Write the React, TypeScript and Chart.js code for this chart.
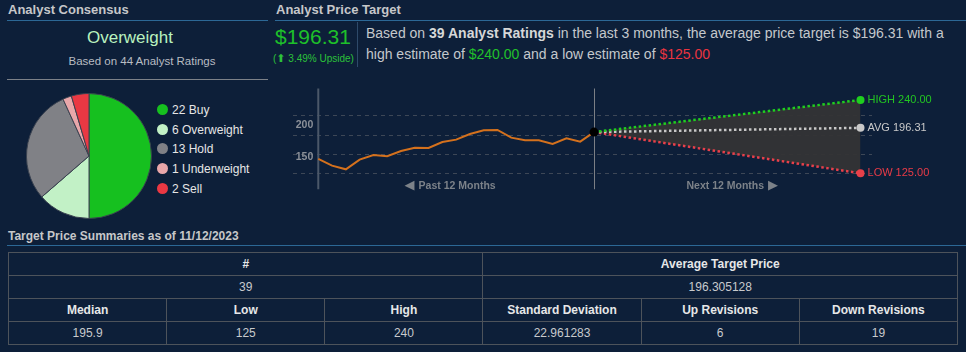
import React, { useEffect, useRef } from "react";
import { Chart, registerables } from "chart.js";

Chart.register(...registerables);

const FONT = '"Liberation Sans", Arial, Helvetica, sans-serif';
const BG = "#0d1f39";

// Analyst consensus (pie)
const RATING_LABELS = ["Buy", "Overweight", "Hold", "Underweight", "Sell"];
const RATING_COUNTS = [22, 6, 13, 1, 2];
const RATING_COLORS = ["#16c01f", "#c2f1c6", "#808186", "#e9a7aa", "#ea3843"];

// Price history (months relative to today) and price
const PAST_MONTHS = [-12, -11.4, -10.8, -10.2, -9.6, -9, -8.4, -7.8, -7.2, -6.6, -6, -5.4, -4.8, -4.2, -3.6, -3, -2.4, -1.8, -1.2, -0.6, 0];
const PAST_PRICES = [147.5, 137, 131.3, 146.4, 153.7, 151.7, 160, 165.2, 164.7, 174.1, 177.8, 186.7, 192.5, 193, 180.9, 176.7, 176.7, 171, 179.8, 174.6, 189.69];
const CURRENT_PRICE = 189.69;
const FORECAST_MONTH = 11.6;
const TARGET_HIGH = 240;
const TARGET_AVG = 196.31;
const TARGET_LOW = 125;
const GRID_VALUES = [125, 155, 185, 215];
const Y_LABELS = [150, 200];

// Summary table
const SUMMARY_HEAD = ["#", "Average Target Price"];
const SUMMARY_VALS = ["39", "196.305128"];
const STAT_HEAD = ["Median", "Low", "High", "Standard Deviation", "Up Revisions", "Down Revisions"];
const STAT_VALS = ["195.9", "125", "240", "22.961283", "6", "19"];

const PieChart: React.FC = () => {
  const ref = useRef<HTMLCanvasElement>(null);
  useEffect(() => {
    const chart = new Chart(ref.current as HTMLCanvasElement, {
      type: "pie",
      data: {
        labels: RATING_LABELS,
        datasets: [
          {
            data: RATING_COUNTS,
            backgroundColor: RATING_COLORS,
            borderColor: "#3a4250",
            borderWidth: 1,
          },
        ],
      },
      options: {
        responsive: false,
        animation: false,
        layout: { padding: 0 },
        plugins: { legend: { display: false }, tooltip: { enabled: false } },
      },
    });
    return () => chart.destroy();
  }, []);
  return <canvas ref={ref} width={126} height={126} style={{ position: "absolute", left: 26, top: 93 }} />;
};

const PriceChart: React.FC = () => {
  const ref = useRef<HTMLCanvasElement>(null);
  useEffect(() => {
    const drawWithArrow = (ctx: any, text: string, arrow: string, cx: number, cy: number, arrowFirst: boolean) => {
      const textFont = `bold 10.5px ${FONT}`;
      const arrowFont = `13px "DejaVu Sans", sans-serif`;
      ctx.font = textFont;
      const tw = ctx.measureText(text).width;
      ctx.font = arrowFont;
      const aw = ctx.measureText(arrow).width;
      const gap = 4;
      const total = tw + aw + gap;
      let x0 = cx - total / 2;
      ctx.textAlign = "left";
      if (arrowFirst) {
        ctx.font = arrowFont;
        ctx.fillText(arrow, x0, cy);
        ctx.font = textFont;
        ctx.fillText(text, x0 + aw + gap, cy);
      } else {
        ctx.font = textFont;
        ctx.fillText(text, x0, cy);
        ctx.font = arrowFont;
        ctx.fillText(arrow, x0 + tw + gap, cy);
      }
    };

    const overlay = {
      id: "overlay",
      beforeDatasetsDraw(chart: any) {
        const { ctx, chartArea, scales } = chart;
        const x = scales.x;
        const y = scales.y;
        const xl = x.getPixelForValue(PAST_MONTHS[0]);
        const xc = x.getPixelForValue(0);
        const xe = x.getPixelForValue(FORECAST_MONTH);
        ctx.save();
        ctx.strokeStyle = "#4b5869";
        ctx.lineWidth = 2;
        ctx.beginPath();
        ctx.moveTo(xl, chartArea.top);
        ctx.lineTo(xl, chartArea.bottom);
        ctx.stroke();
        ctx.strokeStyle = "#7b7f85";
        ctx.lineWidth = 1;
        ctx.beginPath();
        ctx.moveTo(Math.round(xc) + 0.5, chartArea.top);
        ctx.lineTo(Math.round(xc) + 0.5, chartArea.bottom);
        ctx.stroke();
        ctx.font = `bold 10.5px ${FONT}`;
        ctx.fillStyle = "#8b9098";
        ctx.textAlign = "right";
        ctx.textBaseline = "middle";
        Y_LABELS.forEach((v) => ctx.fillText(String(v), xl - 5, y.getPixelForValue(v)));
        ctx.fillStyle = "#7c8289";
        drawWithArrow(ctx, "Past 12 Months", "\u25C0", (xl + xc) / 2 - 6, chartArea.bottom - 3.5, true);
        drawWithArrow(ctx, "Next 12 Months", "\u25B6", (xc + xe) / 2 + 5, chartArea.bottom - 3.5, false);
        ctx.restore();
      },
      afterDatasetsDraw(chart: any) {
        const { ctx, scales } = chart;
        const x = scales.x;
        const y = scales.y;
        const xe = x.getPixelForValue(FORECAST_MONTH) + 7;
        ctx.save();
        ctx.font = `11px ${FONT}`;
        ctx.textAlign = "left";
        ctx.textBaseline = "middle";
        ctx.fillStyle = "#22c522";
        ctx.fillText(`HIGH ${TARGET_HIGH.toFixed(2)}`, xe, y.getPixelForValue(TARGET_HIGH));
        ctx.fillStyle = "#c9c9c9";
        ctx.fillText(`AVG ${TARGET_AVG.toFixed(2)}`, xe, y.getPixelForValue(TARGET_AVG));
        ctx.fillStyle = "#ea3b47";
        ctx.fillText(`LOW ${TARGET_LOW.toFixed(2)}`, xe, y.getPixelForValue(TARGET_LOW));
        ctx.restore();
      },
    };

    const forecast = (target: number, color: string) => ({
      data: [
        { x: 0, y: CURRENT_PRICE },
        { x: FORECAST_MONTH, y: target },
      ],
      borderColor: color,
      borderWidth: 2.5,
      borderDash: [2.5, 2.5],
      pointRadius: [0, 4],
      pointBackgroundColor: color,
      pointBorderWidth: 0,
      fill: false as any,
    });

    const high = forecast(TARGET_HIGH, "#1fcf1f");
    (high as any).fill = 4;
    (high as any).backgroundColor = "rgba(52,52,53,0.95)";

    const chart = new Chart(ref.current as HTMLCanvasElement, {
      type: "line",
      data: {
        datasets: [
          {
            data: [{ x: 0, y: CURRENT_PRICE }],
            showLine: false,
            pointRadius: 4.5,
            pointBackgroundColor: "#000000",
            pointBorderWidth: 0,
          } as any,
          {
            data: PAST_MONTHS.map((m, i) => ({ x: m, y: PAST_PRICES[i] })),
            borderColor: "#d4711d",
            borderWidth: 2,
            pointRadius: 0,
            fill: false,
          },
          high,
          forecast(TARGET_AVG, "#c8c8c8"),
          forecast(TARGET_LOW, "#e8404a"),
        ],
      },
      options: {
        responsive: false,
        animation: false,
        layout: { padding: { left: 21, right: 94, top: 6.5, bottom: 8.75 } },
        plugins: {
          legend: { display: false },
          tooltip: { enabled: false },
          filler: { drawTime: "beforeDatasetsDraw" } as any,
        },
        scales: {
          x: { type: "linear", min: -13.1, max: 12.1, display: false },
          y: {
            type: "linear",
            min: 100,
            max: 258,
            afterBuildTicks: (scale: any) => {
              scale.ticks = GRID_VALUES.map((v) => ({ value: v }));
            },
            ticks: { display: false },
            grid: { color: "#3d4756", drawTicks: false, lineWidth: 1 },
            border: { display: false, dash: [4, 4] },
          },
        },
      },
      plugins: [overlay],
    });
    return () => chart.destroy();
  }, []);
  return <canvas ref={ref} width={694} height={116} style={{ position: "absolute", left: 272, top: 82 }} />;
};

const abs = (extra: React.CSSProperties): React.CSSProperties => ({ position: "absolute", whiteSpace: "nowrap", ...extra });

const App: React.FC = () => {
  const cell: React.CSSProperties = {
    border: "1px solid #4d535b",
    padding: 0,
    textAlign: "center",
    fontSize: 12,
    color: "#c8cacd",
    height: 22,
  };
  const headCell: React.CSSProperties = { ...cell, fontWeight: "bold", color: "#e6e7e8" };
  return (
    <div style={{ position: "fixed", left: 0, top: 0, width: 966, height: 352, background: BG, overflow: "hidden", fontFamily: FONT }}>
      {/* Analyst Consensus */}
      <div style={abs({ left: 8, top: 2, lineHeight: "16px", fontSize: 13, fontWeight: "bold", color: "#c6c7c9" })}>Analyst Consensus</div>
      <div style={abs({ left: 7, top: 20, width: 261, height: 1, background: "#2c6896" })} />
      <div style={abs({ left: 0, width: 260, top: 27, lineHeight: "22px", fontSize: 17, color: "#b9f2bf", textAlign: "center" })}>Overweight</div>
      <div style={abs({ left: 0, width: 284, top: 52.5, lineHeight: "16px", fontSize: 11.5, color: "#b8bcc2", textAlign: "center" })}>
        Based on 44 Analyst Ratings
      </div>
      <div style={abs({ left: 7, top: 79, width: 261, height: 1, background: "#7c8188" })} />
      <PieChart />
      {RATING_LABELS.map((label, i) => (
        <div key={label} style={abs({ left: 157, top: 101 + i * 19.7, lineHeight: "18px", fontSize: 12, color: "#e6e6e6" })}>
          <span style={{ display: "inline-block", width: 11, height: 11, borderRadius: "50%", background: RATING_COLORS[i], verticalAlign: "-1px", marginRight: 4 }} />
          {RATING_COUNTS[i]} {label}
        </div>
      ))}

      {/* Analyst Price Target */}
      <div style={abs({ left: 276, top: 2, lineHeight: "16px", fontSize: 13, fontWeight: "bold", color: "#c6c7c9" })}>Analyst Price Target</div>
      <div style={abs({ left: 275, top: 20, width: 691, height: 1, background: "#2c6896" })} />
      <div style={abs({ left: 275, top: 24, lineHeight: "26px", fontSize: 21, color: "#1ec02a" })}>$196.31</div>
      <div style={abs({ left: 273, top: 52, lineHeight: "14px", fontSize: 10, color: "#2cc13a" })}>
        (<span style={{ fontFamily: '"DejaVu Sans", sans-serif', fontSize: 11 }}>{"\u2B06"}</span> 3.49% Upside)
      </div>
      <div style={abs({ left: 357, top: 22, width: 1, height: 45, background: "#2e4a6a" })} />
      <div style={abs({ left: 366, top: 22.5, lineHeight: "21px", fontSize: 14, color: "#c4c8cc" })}>
        Based on <b style={{ color: "#d6d7d8" }}>39 Analyst Ratings</b> in the last 3 months, the average price target is $196.31 with a
        <br />
        high estimate of <span style={{ color: "#21c12b" }}>$240.00</span> and a low estimate of <span style={{ color: "#ea3440" }}>$125.00</span>
      </div>
      <PriceChart />

      {/* Summary table */}
      <div style={abs({ left: 8, top: 228, lineHeight: "16px", fontSize: 12, fontWeight: "bold", color: "#c6c7c9" })}>
        Target Price Summaries as of 11/12/2023
      </div>
      <div style={abs({ left: 7, top: 245, width: 959, height: 1, background: "#2c6896" })} />
      <table style={{ position: "absolute", left: 8, top: 252, width: 950, borderCollapse: "collapse", tableLayout: "fixed", fontFamily: FONT }}>
        <colgroup>
          {STAT_HEAD.map((h) => (
            <col key={h} style={{ width: "16.666%" }} />
          ))}
        </colgroup>
        <tbody>
          <tr>
            {SUMMARY_HEAD.map((h) => (
              <td key={h} colSpan={3} style={headCell}>{h}</td>
            ))}
          </tr>
          <tr>
            {SUMMARY_VALS.map((v, i) => (
              <td key={i} colSpan={3} style={cell}>{v}</td>
            ))}
          </tr>
          <tr>
            {STAT_HEAD.map((h) => (
              <td key={h} style={headCell}>{h}</td>
            ))}
          </tr>
          <tr>
            {STAT_VALS.map((v, i) => (
              <td key={i} style={cell}>{v}</td>
            ))}
          </tr>
        </tbody>
      </table>
      <div style={abs({ left: 8, top: 348.5, lineHeight: "16px", fontSize: 12, fontWeight: "bold", color: "#c6c7c9" })}>
        Recommendation Summaries as of 11/12/2023
      </div>
    </div>
  );
};

export default App;
